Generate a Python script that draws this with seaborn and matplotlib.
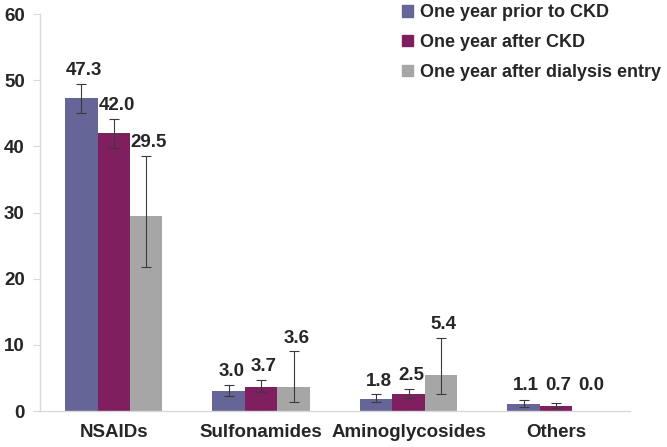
import numpy as np
import pandas as pd
import seaborn as sns
import matplotlib.pyplot as plt
from matplotlib.patches import Patch

drugs = ['NSAIDs', 'Sulfonamides', 'Aminoglycosides', 'Others']
periods = ['One year prior to CKD', 'One year after CKD', 'One year after dialysis entry']

prior_ckd = [47.3, 3.0, 1.8, 1.1]
after_ckd = [42.0, 3.7, 2.5, 0.7]
after_dialysis = [29.5, 3.6, 5.4, 0.0]

# error bar ends
prior_lo = [45.1, 2.3, 1.3, 0.65]
prior_hi = [49.5, 3.9, 2.5, 1.7]
after_lo = [39.8, 2.9, 1.9, 0.4]
after_hi = [44.2, 4.7, 3.3, 1.2]
dial_lo = [21.8, 1.4, 2.5, 0.0]
dial_hi = [38.5, 9.0, 11.1, 0.0]

colors = ['#656597', '#7f1f5f', '#a6a6a6']

df = pd.DataFrame({
    'drug': drugs * 3,
    'period': np.repeat(periods, len(drugs)),
    'pct': prior_ckd + after_ckd + after_dialysis,
})
values = [prior_ckd, after_ckd, after_dialysis]
lows = [prior_lo, after_lo, dial_lo]
highs = [prior_hi, after_hi, dial_hi]

sns.set_style('white')
plt.rcParams['font.family'] = ['Liberation Sans', 'DejaVu Sans']

fig = plt.figure(figsize=(6.67, 4.47), dpi=100)
ax = fig.add_axes([0.06, 0.0805, 0.884, 0.888])

sns.barplot(
    data = df, x = 'drug', y = 'pct', hue = 'period',
    palette = colors, hue_order = periods, order = drugs,
    width = 0.66, errorbar = None, saturation = 1,
    linewidth = 0, legend = False, ax = ax
)

for cont, vals, lo, hi in zip(ax.containers, values, lows, highs):
    for bar, v, l, h in zip(cont, vals, lo, hi):
        x = bar.get_x() + bar.get_width() / 2
        if h > 0:
            ax.errorbar(x, v, yerr=[[v - l], [h - v]], fmt='none',
                        ecolor='#3a3a3a', elinewidth=0.8, capsize=3.5, capthick=0.8)
        top = max(h, v, 1.9)
        ax.annotate(f'{v:.1f}', (x, top), xytext=(2, 3.5), textcoords='offset points',
                    ha='center', va='bottom', fontsize=13.5, fontweight='bold')

ax.set_ylim(0, 60)
ax.set_xlim(-0.5, 3.5)
ax.set_yticks(range(0, 61, 10))
ax.set_xticks(range(4))
ax.set_xticks(np.arange(-0.5, 3.6, 1), minor=True)
ax.set_xlabel('')
ax.set_ylabel('')
for lab in ax.get_xticklabels() + ax.get_yticklabels():
    lab.set_fontweight('bold')
    lab.set_fontsize(13.5)
ax.tick_params(axis='x', which='major', length=0, pad=9)
ax.tick_params(axis='x', which='minor', length=5, color='#d9d9d9', direction='out')
ax.tick_params(axis='y', length=5, color='#d9d9d9', direction='out', pad=6, left=True)

for s in ['top', 'right']:
    ax.spines[s].set_visible(False)
for s in ['left', 'bottom']:
    ax.spines[s].set_color('#d9d9d9')
    ax.spines[s].set_linewidth(1)

handles = [Patch(color=c, label=p) for c, p in zip(colors, periods)]
fig.legend(handles=handles, loc='upper left', bbox_to_anchor=(0.603, 0.99),
           frameon=False, prop={'weight': 'bold', 'size': 13},
           handlelength=0.6, handleheight=0.6, handletextpad=0.4,
           labelspacing=0.7, borderpad=0, borderaxespad=0)

fig.savefig('out.png', dpi=100)
